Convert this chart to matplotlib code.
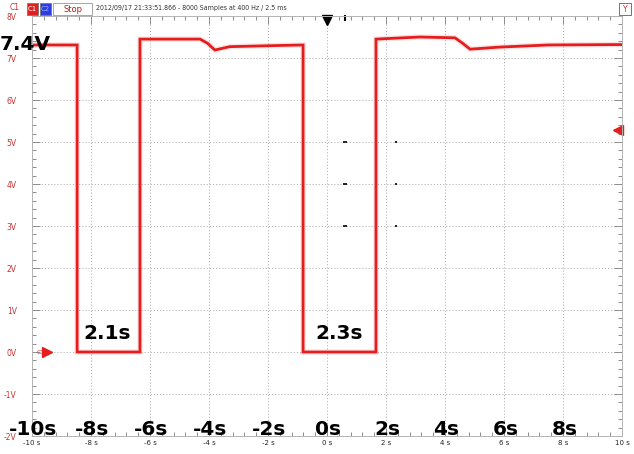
import matplotlib.pyplot as plt
from matplotlib.patches import Rectangle
from matplotlib.ticker import MultipleLocator

# trace breakpoints (seconds, volts)
trace_t = [-10, -8.47, -8.47, -6.34, -6.34, -4.3, -4.05, -3.8, -3.3, -1.5, -0.81, -0.81,
           1.66, 1.66, 3.15, 4.34, 4.6, 4.85, 5.86, 7.5, 10]
trace_v = [7.31, 7.31, 0.0, 0.0, 7.45, 7.45, 7.35, 7.19, 7.27, 7.30, 7.31, 0.0,
           0.0, 7.45, 7.50, 7.48, 7.35, 7.21, 7.26, 7.31, 7.32]

x_ticks = [-10, -8, -6, -4, -2, 0, 2, 4, 6, 8, 10]
x_small = ['-10 s', '-8 s', '-6 s', '-4 s', '-2 s', '0 s', '2 s', '4 s', '6 s', '8 s', '10 s']
x_big = ['-10s', '-8s', '-6s', '-4s', '-2s', '0s', '2s', '4s', '6s', '8s']
y_ticks = [8, 7, 6, 5, 4, 3, 2, 1, 0, -1, -2]
y_labels = ['8V', '7V', '6V', '5V', '4V', '3V', '2V', '1V', '0V', '-1V', '-2V']

notes = [('2.1s', -7.45, 0.45), ('2.3s', 0.4, 0.45)]

red = '#e41e1e'
W, H = 634, 454

fig = plt.figure(figsize=(6.34, 4.54), dpi=100)
ax = fig.add_axes([32 / W, 1 - 436 / H, 590 / W, 420 / H])

ax.plot(trace_t, trace_v, color=red, lw=4, alpha=0.12, solid_joinstyle='miter')
ax.plot(trace_t, trace_v, color=red, lw=2, solid_joinstyle='miter')

ax.set_xlim(-10, 10)
ax.set_ylim(-2, 8)
ax.set_xticks(x_ticks)
ax.set_xticklabels(x_small, fontsize=5, color='#222222')
ax.set_yticks(y_ticks)
ax.set_yticklabels(y_labels, fontsize=5.5, color='#c83232')
ax.xaxis.set_minor_locator(MultipleLocator(0.4))
ax.yaxis.set_minor_locator(MultipleLocator(0.2))
ax.tick_params(which='both', direction='in', top=True, right=True, color='#8c8c8c', width=0.7)
ax.tick_params(which='major', length=6, pad=3)
ax.tick_params(which='minor', length=3)
ax.tick_params(axis='y', pad=11)
ax.grid(True, which='major', color='#b4b4b4', ls=(0, (1.2, 2.0)), lw=0.7)
for s in ax.spines.values():
    s.set_color('#b4b4b4')
    s.set_linewidth(0.7)

# markers on the screen
ax.plot([-9.5], [0], marker='>', color=red, ms=7, clip_on=False)
ax.text(-9.58, 0, 'C1', color=red, fontsize=4.5, va='center', ha='right')
ax.plot([9.85], [5.29], marker='<', color=red, ms=7, clip_on=False)
ax.plot([0], [7.9], marker='v', color='black', ms=7, clip_on=False)
for v in [5, 4, 3]:
    ax.plot([0.6], [v], marker='_', color='black', ms=3, mew=1.2)
    ax.plot([2.35], [v], marker='_', color='black', ms=2, mew=1.2)
ax.plot([0.6], [7.95], marker='|', color='black', ms=4, mew=1.5, clip_on=False)

# big annotation text
big = dict(fontsize=14.5, fontweight='bold', color='black', family='DejaVu Sans')
fig.text(0 / W, 1 - 45 / H, '7.4V', ha='left', va='center', **big)
for txt, t, v in notes:
    ax.text(t, v, txt, ha='center', va='center', **big)
for lab, t in zip(x_big, x_ticks):
    ax.text(t + 0.05, -1.85, lab, ha='center', va='center', **big)

# header bar
def box(x0, x1, fc, ec):
    fig.add_artist(Rectangle((x0 / W, 1 - 15 / H), (x1 - x0) / W, 12 / H,
                             transform=fig.transFigure, fc=fc, ec=ec, lw=0.6))

fig.text(10 / W, 1 - 8 / H, 'C1', color='#c83232', fontsize=5.5, va='center')
box(27, 38, '#e02020', '#777777')
fig.text(32.5 / W, 1 - 9 / H, 'C1', color='white', fontsize=5, va='center', ha='center')
box(40, 51, '#2c3ce0', '#777777')
fig.text(45.5 / W, 1 - 9 / H, 'C2', color='#9fb0ff', fontsize=5, va='center', ha='center')
box(53, 92, 'white', '#999999')
fig.text(72.5 / W, 1 - 9 / H, 'Stop', color='#aa2222', fontsize=6, va='center', ha='center')
fig.text(96 / W, 1 - 8 / H, '2012/09/17 21:33:51.866 - 8000 Samples at 400 Hz / 2.5 ms',
         color='#333333', fontsize=5, va='center', fontstretch='condensed')
box(619, 631, 'white', '#c83232')
fig.text(625 / W, 1 - 9 / H, 'Y', color='#c83232', fontsize=5.5, va='center', ha='center')

fig.savefig('out.png', dpi=100)
